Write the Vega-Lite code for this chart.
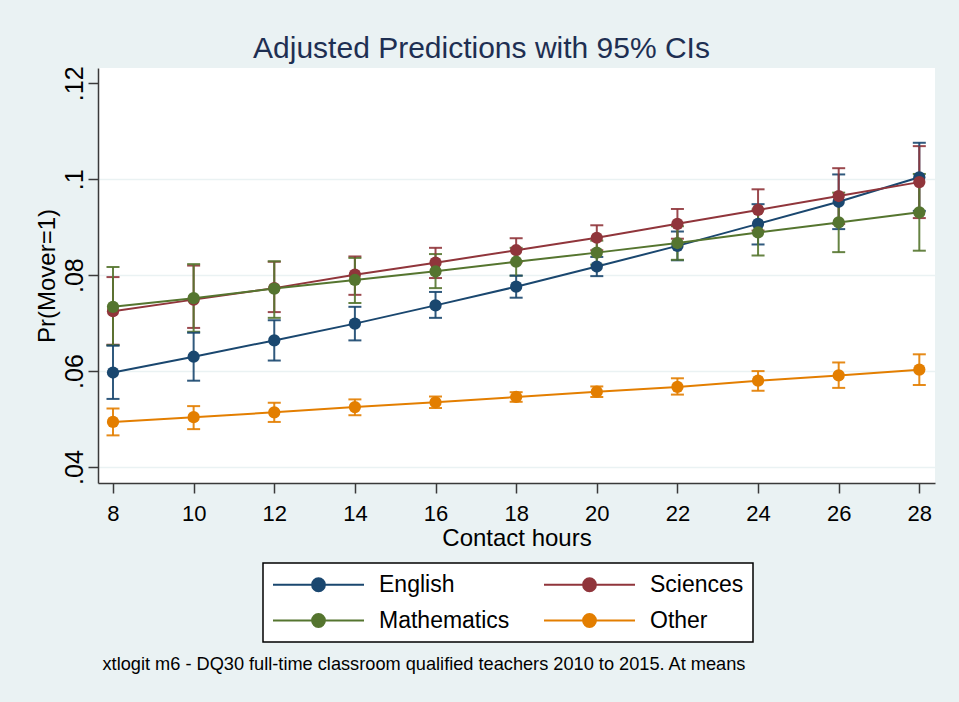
{
  "$schema": "https://vega.github.io/schema/vega-lite/v6.json",
  "width": 837,
  "height": 415,
  "autosize": {"type": "none"},
  "padding": {"left": 98, "top": 68, "right": 24, "bottom": 219},
  "background": "#EAF2F3",
  "config": {
    "view": {"fill": "#ffffff", "stroke": null},
    "font": "Liberation Sans",
    "axis": {"domainColor": "#3a3a3a", "tickColor": "#3a3a3a", "domainWidth": 1.5, "tickWidth": 1.5, "labelColor": "#000000", "titleColor": "#000000", "titleFontWeight": "normal", "labelFont": "Liberation Sans", "titleFont": "Liberation Sans"}
  },
  "title": {"text": "Adjusted Predictions with 95% CIs", "font": "Liberation Sans", "fontSize": 30, "fontWeight": "normal", "color": "#1e2f52", "anchor": "middle", "frame": "group", "dx": -35, "baseline": "alphabetic", "offset": -22},
  "data": {"values": [
    {"subject": "English", "hours": 8, "pr": 0.0597, "lo": 0.0542, "hi": 0.0653},
    {"subject": "English", "hours": 10, "pr": 0.0630, "lo": 0.0580, "hi": 0.0680},
    {"subject": "English", "hours": 12, "pr": 0.0664, "lo": 0.0622, "hi": 0.0706},
    {"subject": "English", "hours": 14, "pr": 0.0699, "lo": 0.0664, "hi": 0.0734},
    {"subject": "English", "hours": 16, "pr": 0.0737, "lo": 0.0711, "hi": 0.0765},
    {"subject": "English", "hours": 18, "pr": 0.0776, "lo": 0.0753, "hi": 0.0799},
    {"subject": "English", "hours": 20, "pr": 0.0818, "lo": 0.0798, "hi": 0.0838},
    {"subject": "English", "hours": 22, "pr": 0.0861, "lo": 0.0831, "hi": 0.0891},
    {"subject": "English", "hours": 24, "pr": 0.0907, "lo": 0.0864, "hi": 0.0948},
    {"subject": "English", "hours": 26, "pr": 0.0953, "lo": 0.0896, "hi": 0.1010},
    {"subject": "English", "hours": 28, "pr": 0.1004, "lo": 0.0934, "hi": 0.1076},
    {"subject": "Sciences", "hours": 8, "pr": 0.0725, "lo": 0.0655, "hi": 0.0796},
    {"subject": "Sciences", "hours": 10, "pr": 0.0749, "lo": 0.0690, "hi": 0.0820},
    {"subject": "Sciences", "hours": 12, "pr": 0.0773, "lo": 0.0723, "hi": 0.0828},
    {"subject": "Sciences", "hours": 14, "pr": 0.0801, "lo": 0.0759, "hi": 0.0839},
    {"subject": "Sciences", "hours": 16, "pr": 0.0826, "lo": 0.0794, "hi": 0.0857},
    {"subject": "Sciences", "hours": 18, "pr": 0.0852, "lo": 0.0827, "hi": 0.0877},
    {"subject": "Sciences", "hours": 20, "pr": 0.0878, "lo": 0.0852, "hi": 0.0904},
    {"subject": "Sciences", "hours": 22, "pr": 0.0907, "lo": 0.0876, "hi": 0.0938},
    {"subject": "Sciences", "hours": 24, "pr": 0.0936, "lo": 0.0893, "hi": 0.0979},
    {"subject": "Sciences", "hours": 26, "pr": 0.0965, "lo": 0.0907, "hi": 0.1023},
    {"subject": "Sciences", "hours": 28, "pr": 0.0994, "lo": 0.0919, "hi": 0.1069},
    {"subject": "Mathematics", "hours": 8, "pr": 0.0734, "lo": 0.0654, "hi": 0.0817},
    {"subject": "Mathematics", "hours": 10, "pr": 0.0752, "lo": 0.0682, "hi": 0.0823},
    {"subject": "Mathematics", "hours": 12, "pr": 0.0772, "lo": 0.0711, "hi": 0.0829},
    {"subject": "Mathematics", "hours": 14, "pr": 0.0790, "lo": 0.0742, "hi": 0.0836},
    {"subject": "Mathematics", "hours": 16, "pr": 0.0808, "lo": 0.0773, "hi": 0.0844},
    {"subject": "Mathematics", "hours": 18, "pr": 0.0828, "lo": 0.0799, "hi": 0.0857},
    {"subject": "Mathematics", "hours": 20, "pr": 0.0847, "lo": 0.0822, "hi": 0.0872},
    {"subject": "Mathematics", "hours": 22, "pr": 0.0867, "lo": 0.0832, "hi": 0.0902},
    {"subject": "Mathematics", "hours": 24, "pr": 0.0889, "lo": 0.0841, "hi": 0.0937},
    {"subject": "Mathematics", "hours": 26, "pr": 0.0910, "lo": 0.0848, "hi": 0.0972},
    {"subject": "Mathematics", "hours": 28, "pr": 0.0931, "lo": 0.0851, "hi": 0.1011},
    {"subject": "Other", "hours": 8, "pr": 0.0494, "lo": 0.0466, "hi": 0.0522},
    {"subject": "Other", "hours": 10, "pr": 0.0504, "lo": 0.0479, "hi": 0.0527},
    {"subject": "Other", "hours": 12, "pr": 0.0514, "lo": 0.0494, "hi": 0.0534},
    {"subject": "Other", "hours": 14, "pr": 0.0525, "lo": 0.0508, "hi": 0.0541},
    {"subject": "Other", "hours": 16, "pr": 0.0535, "lo": 0.0523, "hi": 0.0547},
    {"subject": "Other", "hours": 18, "pr": 0.0546, "lo": 0.0536, "hi": 0.0556},
    {"subject": "Other", "hours": 20, "pr": 0.0557, "lo": 0.0546, "hi": 0.0568},
    {"subject": "Other", "hours": 22, "pr": 0.0567, "lo": 0.0551, "hi": 0.0585},
    {"subject": "Other", "hours": 24, "pr": 0.0580, "lo": 0.0559, "hi": 0.0600},
    {"subject": "Other", "hours": 26, "pr": 0.0591, "lo": 0.0565, "hi": 0.0618},
    {"subject": "Other", "hours": 28, "pr": 0.0603, "lo": 0.0571, "hi": 0.0635}
  ]},
  "encoding": {
    "x": {"field": "hours", "type": "quantitative", "scale": {"domain": [7.628, 28.389], "nice": false, "zero": false}},
    "color": {
      "field": "subject", "type": "nominal",
      "scale": {"domain": ["English", "Sciences", "Mathematics", "Other"], "range": ["#1a476f", "#90353b", "#55752f", "#e37e00"]},
      "legend": {
        "orient": "none", "legendX": 165, "legendY": 495, "columns": 2, "direction": "horizontal", "title": null,
        "symbolType": "M-1,0L6.913,0M2.4,0A0.557,0.557,0,1,0,3.514,0A0.557,0.557,0,1,0,2.4,0Z",
        "symbolSize": 529, "symbolStrokeWidth": 2, "symbolOpacity": 1,
        "labelFontSize": 23, "labelFont": "Liberation Sans", "labelOffset": 82, "labelColor": "#000000", "labelLimit": 400,
        "columnPadding": 30, "rowPadding": 11, "padding": 9,
        "strokeColor": "#000000", "fillColor": "#ffffff", "cornerRadius": 0,
        "encode": {
          "symbols": {"update": {"fill": {"scale": "color", "field": "value"}, "stroke": {"scale": "color", "field": "value"}, "opacity": {"value": 1}}},
          "legend": {"update": {"strokeWidth": {"value": 1.5}}}
        }
      }
    }
  },
  "layer": [
    {
      "mark": {"type": "errorbar", "ticks": {"size": 13, "thickness": 2}, "thickness": 2, "opacity": 0.9},
      "encoding": {
        "x": {"field": "hours", "type": "quantitative", "axis": null},
        "y": {"field": "lo", "type": "quantitative", "scale": {"domain": [0.03667, 0.12319], "nice": false, "zero": false}, "axis": null},
        "y2": {"field": "hi"}
      }
    },
    {
      "mark": {"type": "line", "strokeWidth": 2},
      "encoding": {
        "x": {"field": "hours", "type": "quantitative", "axis": {
          "title": "Contact hours", "values": [8, 10, 12, 14, 16, 18, 20, 22, 24, 26, 28],
          "tickSize": 10, "labelFontSize": 22, "labelPadding": 10, "titleFontSize": 24, "titlePadding": 2,
          "grid": false, "labelFlush": false, "labelOverlap": false
        }},
        "y": {"field": "pr", "type": "quantitative", "scale": {"domain": [0.03667, 0.12319], "nice": false, "zero": false}, "axis": {
          "title": "Pr(Mover=1)", "values": [0.04, 0.06, 0.08, 0.1, 0.12],
          "labelExpr": "replace(format(datum.value, '.2~f'), '0.', '.')",
          "labelAngle": 270, "labelAlign": "center", "labelBaseline": "alphabetic",
          "labelFontSize": 25, "labelPadding": 6, "tickSize": 10,
          "titleFontSize": 24, "titlePadding": 3,
          "grid": true, "gridColor": "#EAF2F3", "gridWidth": 1.5,
          "gridOpacity": {"condition": {"test": "datum.value > 0.11", "value": 0}, "value": 1},
          "labelFlush": false, "labelOverlap": false
        }}
      }
    },
    {
      "mark": {"type": "point", "filled": true, "size": 150, "opacity": 1},
      "encoding": {
        "x": {"field": "hours", "type": "quantitative", "axis": {
          "title": "xtlogit m6 - DQ30 full-time classroom qualified teachers 2010 to 2015. At means",
          "orient": "bottom", "offset": 172, "domain": false, "ticks": false, "labels": false, "grid": false,
          "titleFontSize": 18.2, "titleX": 4, "titleAlign": "left", "titleAnchor": "start", "titlePadding": 0
        }},
        "y": {"field": "pr", "type": "quantitative", "scale": {"domain": [0.03667, 0.12319], "nice": false, "zero": false}, "axis": null}
      }
    }
  ],
  "resolve": {"axis": {"x": "independent", "y": "independent"}}
}
